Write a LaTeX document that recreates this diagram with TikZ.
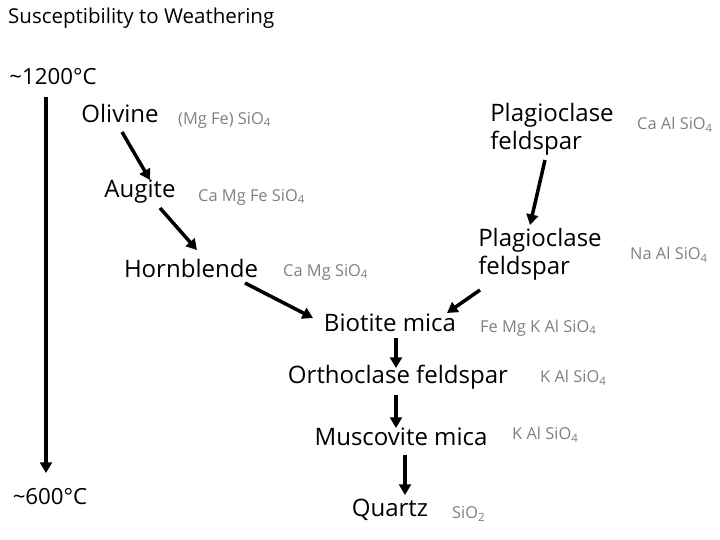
\documentclass[tikz,border=0pt]{standalone}
\usepackage{fontspec}
\setmainfont{Open Sans}
\usetikzlibrary{arrows.meta, calc}

\begin{document}
\begin{tikzpicture}[x=0.03cm, y=-0.03cm,
    mineral/.style={inner sep=0, font=\fontsize{20.5}{24}\selectfont},
    chem/.style={inner sep=0, text=gray, font=\fontsize{14}{16}\selectfont},
    temp/.style={inner sep=0, font=\fontsize{19}{22}\selectfont},
    arr/.style={line width=3pt, -{Triangle[length=9pt, width=10pt]}}]
  \useasboundingbox (0,0) rectangle (720,540);
  % title and temperatures
  \node[inner sep=0, anchor=west, font=\fontsize{17.5}{20}\selectfont] (title) at (8,18) {Susceptibility to Weathering};
  \node[temp] (hot) at (53,77) {\textasciitilde 1200\textdegree C};
  \node[temp] (cold) at (50,497) {\textasciitilde 600\textdegree C};
  % discontinuous series
  \node[mineral] (olivine) at (120,113) {Olivine};
  \node[chem, anchor=west] (olivinechem) at (178,120) {(Mg Fe) SiO\textsubscript{4}};
  \node[mineral] (augite) at (140,192) {Augite};
  \node[chem, anchor=west] (augitechem) at (198,197) {Ca Mg Fe SiO\textsubscript{4}};
  \node[mineral] (hornblende) at (191,268) {Hornblende};
  \node[chem, anchor=west] (hornblendechem) at (283,272) {Ca Mg SiO\textsubscript{4}};
  % continuous series
  \node[mineral, align=left] (plagtop) at (552,129) {Plagioclase\\feldspar};
  \node[chem, anchor=west] (plagtopchem) at (637,125) {Ca Al SiO\textsubscript{4}};
  \node[mineral, align=left] (plagbot) at (540,254) {Plagioclase\\feldspar};
  \node[chem, anchor=west] (plagbotchem) at (630,255) {Na Al SiO\textsubscript{4}};
  % common tail
  \node[mineral] (biotite) at (390,323) {Biotite mica};
  \node[chem, anchor=west] (biotitechem) at (480,328) {Fe Mg K Al SiO\textsubscript{4}};
  \node[mineral] (orthoclase) at (398,377) {Orthoclase feldspar};
  \node[chem, anchor=west] (orthoclasechem) at (540,378) {K Al SiO\textsubscript{4}};
  \node[mineral] (muscovite) at (401,437) {Muscovite mica};
  \node[chem, anchor=west] (muscovitechem) at (512,435) {K Al SiO\textsubscript{4}};
  \node[mineral] (quartz) at (390,510) {Quartz};
  \node[chem, anchor=west] (quartzchem) at (452,514) {SiO\textsubscript{2}};
  % arrows
  \draw[arr] ($(hot)+(-7,20)$) -- ($(cold)+(-4,-24)$);
  \draw[arr] ($(olivine)+(2,19)$) -- ($(augite)+(10,-12)$);
  \draw[arr] ($(augite)+(20,16)$) -- ($(hornblende)+(6,-18)$);
  \draw[arr] ($(hornblende)+(54,15)$) -- ($(biotite)+(-77,-5)$);
  \draw[arr] ($(plagtop)+(-7,31)$) -- ($(plagbot)+(-10,-29)$);
  \draw[arr] ($(plagbot)+(-60,36)$) -- ($(biotite)+(57,-10)$);
  \draw[arr] ($(biotite)+(6,15)$) -- ($(orthoclase)+(-2,-9)$);
  \draw[arr] ($(orthoclase)+(-2,18)$) -- ($(muscovite)+(-5,-9)$);
  \draw[arr] ($(muscovite)+(4,18)$) -- ($(quartz)+(15,-15)$);
\end{tikzpicture}
\end{document}
